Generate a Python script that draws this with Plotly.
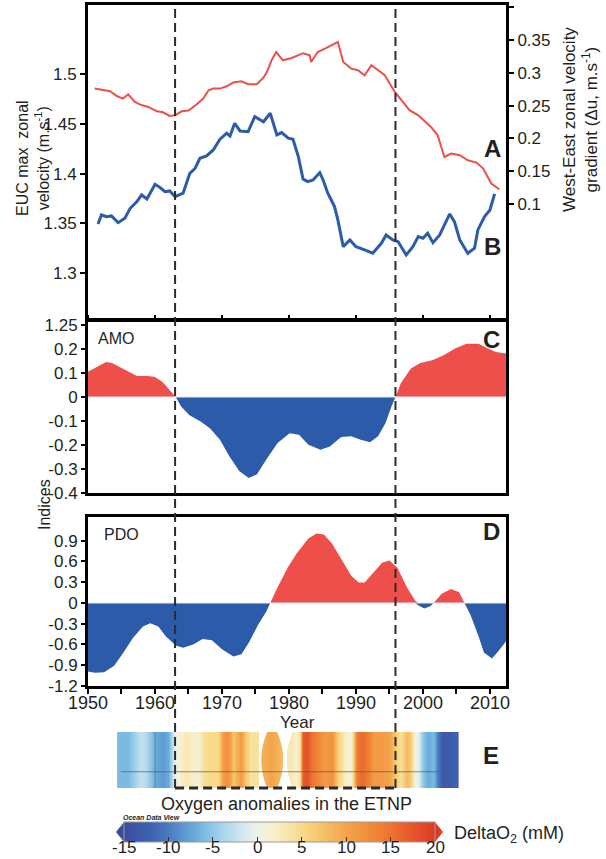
import plotly.graph_objects as go

W, H = 606, 859
def px(x): return x / W
def py(y): return 1 - y / H

FONT = "Liberation Sans, Arial, sans-serif"
TXT = "#231f20"
RED = "#ee4f4b"
BLUE = "#2c5ca9"

# ---------------- data ----------------
# A: West-East zonal velocity gradient (right axis)
red_years = [1951.0, 1952.0, 1953.3, 1954.3, 1955.2, 1956.0, 1957.0, 1957.8, 1959.0, 1960.3,
             1961.2, 1962.2, 1963.0, 1964.0, 1965.0, 1966.2, 1967.2, 1968.0, 1968.7, 1969.7,
             1970.7, 1971.7, 1972.9, 1973.9, 1975.2, 1976.2, 1976.7, 1977.4, 1978.1, 1979.1,
             1980.4, 1982.1, 1983.1, 1983.3, 1984.3, 1985.6, 1987.1, 1987.3, 1988.1, 1989.3,
             1990.3, 1991.3, 1992.3, 1994.3, 1995.8, 1997.0, 1998.0, 1999.3, 2000.3, 2001.2,
             2002.2, 2003.2, 2004.2, 2005.5, 2006.7, 2008.0, 2009.0, 2010.2, 2011.4]
red_vals = [0.276, 0.2745, 0.272, 0.2647, 0.2607, 0.2673, 0.2556, 0.2516, 0.248, 0.2414,
            0.2399, 0.2343, 0.2353, 0.2414, 0.2424, 0.2516, 0.2607, 0.2734, 0.276, 0.276,
            0.2795, 0.2852, 0.2872, 0.2826, 0.2826, 0.2928, 0.3013, 0.3192, 0.3318, 0.3192,
            0.3227, 0.3300, 0.3268, 0.3166, 0.3318, 0.338, 0.3461, 0.347, 0.3166, 0.3065,
            0.304, 0.2963, 0.3116, 0.2963, 0.2709, 0.2556, 0.243, 0.2353, 0.2251, 0.2175,
            0.2048, 0.1717, 0.1769, 0.1743, 0.1667, 0.1632, 0.154, 0.1312, 0.1225]

# B: EUC max zonal velocity (left axis)
blue_years = [1951.5, 1952.0, 1952.8, 1953.5, 1954.5, 1955.5, 1956.3, 1957.3, 1958.0, 1958.8,
              1960.0, 1960.7, 1961.5, 1962.2, 1963.0, 1964.2, 1965.2, 1966.0, 1966.7, 1967.7,
              1968.7, 1969.7, 1970.7, 1971.2, 1971.9, 1972.7, 1973.9, 1974.9, 1976.2, 1977.2,
              1978.2, 1978.9, 1979.9, 1980.6, 1981.4, 1982.1, 1982.8, 1983.6, 1984.6, 1985.1,
              1985.8, 1986.8, 1987.3, 1988.1, 1989.1, 1990.0, 1991.3, 1992.5, 1993.8, 1994.5,
              1995.5, 1996.3, 1997.5, 1998.5, 1999.3, 2000.0, 2000.7, 2001.5, 2002.5, 2004.0,
              2004.7, 2005.5, 2006.7, 2007.7, 2008.2, 2009.2, 2010.0, 2010.7]
blue_vals = [1.3495, 1.3585, 1.3568, 1.3575, 1.3508, 1.3552, 1.3652, 1.3719, 1.3786, 1.3746,
             1.3893, 1.3863, 1.3819, 1.3826, 1.3769, 1.3803, 1.4003, 1.4054, 1.4154, 1.4177,
             1.4237, 1.4345, 1.4405, 1.4378, 1.4505, 1.4428, 1.4421, 1.4572, 1.4521, 1.4606,
             1.4388, 1.4412, 1.4355, 1.4345, 1.417, 1.3945, 1.3919, 1.3936, 1.401, 1.3936,
             1.3803, 1.3669, 1.3535, 1.3267, 1.3334, 1.3267, 1.3234, 1.3201, 1.3301, 1.3384,
             1.3334, 1.3317, 1.3184, 1.3267, 1.3368, 1.3351, 1.3401, 1.3307, 1.3384, 1.3595,
             1.3518, 1.3334, 1.3201, 1.3251, 1.3435, 1.3568, 1.3635, 1.3796]

# C: AMO index
amo_years = [1950.0, 1951.3, 1952.7, 1953.6, 1954.7, 1956.2, 1957.3, 1958.8, 1959.9, 1961.1,
             1962.2, 1963.1, 1963.9, 1965.1, 1966.8, 1968.2, 1969.7, 1971.1, 1972.6, 1974.0,
             1975.2, 1976.6, 1978.3, 1980.1, 1981.5, 1982.9, 1984.7, 1986.1, 1987.8, 1989.3,
             1990.7, 1992.1, 1993.3, 1994.4, 1995.3, 1995.9, 1996.7, 1998.2, 1999.6, 2001.4,
             2003.1, 2004.8, 2006.5, 2008.3, 2009.7, 2010.9, 2012.4]
amo_vals = [0.105, 0.126, 0.146, 0.142, 0.126, 0.101, 0.087, 0.087, 0.084, 0.064,
            0.029, 0.0, -0.040, -0.075, -0.102, -0.130, -0.178, -0.247, -0.309, -0.337,
            -0.323, -0.261, -0.192, -0.151, -0.157, -0.199, -0.220, -0.206, -0.167, -0.164,
            -0.178, -0.189, -0.164, -0.109, -0.040, 0.0, 0.057, 0.119, 0.142, 0.153,
            0.174, 0.202, 0.222, 0.222, 0.202, 0.188, 0.181]

# D: PDO index
pdo_years = [1950.0, 1951.0, 1952.4, 1953.9, 1955.3, 1956.7, 1958.2, 1959.3, 1960.5, 1961.6,
             1963.1, 1964.2, 1965.7, 1967.1, 1968.5, 1970.0, 1971.7, 1972.9, 1974.0, 1975.4,
             1976.6, 1977.2, 1978.3, 1979.8, 1981.2, 1982.9, 1984.1, 1985.2, 1986.4, 1987.8,
             1989.3, 1990.4, 1991.3, 1992.4, 1993.9, 1995.0, 1996.2, 1997.6, 1998.8, 1999.3,
             2000.2, 2001.1, 2001.6, 2002.8, 2004.2, 2005.4, 2006.2, 2007.1, 2008.3, 2009.1,
             2010.3, 2011.1, 2012.4]
pdo_vals = [-0.99, -1.01, -1.0, -0.906, -0.717, -0.505, -0.34, -0.292, -0.34, -0.481,
            -0.613, -0.646, -0.599, -0.519, -0.538, -0.67, -0.774, -0.741, -0.575, -0.316,
            -0.127, 0.0, 0.226, 0.509, 0.722, 0.934, 1.005, 0.99, 0.863, 0.627,
            0.392, 0.297, 0.297, 0.415, 0.58, 0.613, 0.509, 0.226, 0.038, -0.033,
            -0.08, -0.047, 0.0, 0.132, 0.203, 0.156, 0.0, -0.175, -0.481, -0.717,
            -0.802, -0.717, -0.552]

# E: oxygen anomalies in the ETNP (None = no data)
o2_years = [1954.9, 1956.0, 1957.0, 1957.8, 1958.5, 1959.3, 1960.0, 1961.0, 1961.9, 1962.5,
            1963.0, 1963.4, 1964.5, 1965.5, 1966.3, 1967.2, 1968.2, 1969.4, 1970.1, 1970.6,
            1971.0, 1971.6, 1972.2, 1972.8, 1973.4, 1974.2, 1975.1, 1975.7, 1976.3, 1977.2,
            1978.1, 1978.8, 1979.5, 1980.1, 1981.0, 1981.6, 1982.1, 1982.7, 1983.4, 1984.3,
            1985.4, 1986.4, 1987.3, 1987.9, 1988.7, 1989.4, 1990.1, 1990.9, 1991.8, 1992.7,
            1993.9, 1995.1, 1996.0, 1996.7, 1997.5, 1998.1, 1998.7, 1999.3, 1999.9, 2000.7,
            2001.6, 2002.2, 2003.0, 2004.0, 2004.9]
o2_vals = [-6, -6, -4, -2.5, -3, -5, -7, -8, -7, -3,
           0, 1, 3, 2, 1, 4, 5, 5, 10, 12,
           11, 7, 9, 11, 7, 4, 4, None, 9, 10,
           9, 8, None, 3, 2, 3, 17, 18, 15, 13,
           11, 12, 6, 4, 1, 2, 14, 16, 14, 11,
           11, 10, 6, 4, 8, 6, 1, -1, -5, -7,
           -6, -10, -13, -13, -12]

dash_years = [1963.0, 1995.9]

left_ticks = [1.3, 1.35, 1.4, 1.45, 1.5]
right_ticks = [0.1, 0.15, 0.2, 0.25, 0.3, 0.35, 0.4]
amo_ticks = [0.3, 0.2, 0.1, 0, -0.1, -0.2, -0.3, -0.4]
amo_ticktext = ["1.25", "0.2", "0.1", "0", "-0.1", "-0.2", "-0.3", "-0.4"]
pdo_ticks = [0.9, 0.6, 0.3, 0, -0.3, -0.6, -0.9, -1.2]
pdo_ticktext = ["0.9", "0.6", "0.3", "0", "-0.3", "-0.6", "-0.9", "-1.2"]
year_ticks = [1950, 1960, 1970, 1980, 1990, 2000, 2010]
cbar_ticks = [-15, -10, -5, 0, 5, 10, 15, 20]
CB_MIN, CB_MAX = -15, 20

odv_scale = [
    [0.0, "#394c9e"], [0.0857, "#3e62b2"], [0.1429, "#4a7cc2"], [0.2286, "#69acdb"],
    [0.2857, "#8fc9e7"], [0.3714, "#cde6ef"], [0.4286, "#eef2ea"], [0.4857, "#f8efca"],
    [0.5714, "#f8da88"], [0.6571, "#f5bb60"], [0.7143, "#f4a44b"], [0.8, "#f0883a"],
    [0.8571, "#ec7430"], [0.9429, "#e5502a"], [1.0, "#df3a24"],
]

XR = [1950, 2012.4]
XD = [px(88), px(506)]

fig = go.Figure()

# top panel
fig.add_trace(go.Scatter(x=red_years, y=red_vals, mode="lines", line=dict(color=RED, width=2),
                         xaxis="x", yaxis="y2", showlegend=False))
fig.add_trace(go.Scatter(x=blue_years, y=blue_vals, mode="lines", line=dict(color=BLUE, width=3),
                         xaxis="x", yaxis="y", showlegend=False))

# AMO
fig.add_trace(go.Scatter(x=amo_years, y=[max(v, 0) for v in amo_vals], mode="lines", fill="tozeroy",
                         fillcolor=RED, line=dict(width=0, color=RED), xaxis="x2", yaxis="y3",
                         showlegend=False))
fig.add_trace(go.Scatter(x=amo_years, y=[min(v, 0) for v in amo_vals], mode="lines", fill="tozeroy",
                         fillcolor=BLUE, line=dict(width=0, color=BLUE), xaxis="x2", yaxis="y3",
                         showlegend=False))
# PDO
fig.add_trace(go.Scatter(x=pdo_years, y=[max(v, 0) for v in pdo_vals], mode="lines", fill="tozeroy",
                         fillcolor=RED, line=dict(width=0, color=RED), xaxis="x3", yaxis="y4",
                         showlegend=False))
fig.add_trace(go.Scatter(x=pdo_years, y=[min(v, 0) for v in pdo_vals], mode="lines", fill="tozeroy",
                         fillcolor=BLUE, line=dict(width=0, color=BLUE), xaxis="x3", yaxis="y4",
                         showlegend=False))

# E strip: split into segments at gaps
segments = []
cur_x, cur_z = [], []
for yv, zv in zip(o2_years, o2_vals):
    if zv is None:
        if cur_x:
            segments.append((cur_x, cur_z))
        cur_x, cur_z = [], []
    else:
        cur_x.append(yv)
        cur_z.append(zv)
if cur_x:
    segments.append((cur_x, cur_z))

for sx, sz in segments:
    fig.add_trace(go.Heatmap(x=sx, y=[0, 0.5, 1], z=[sz, sz], coloraxis="coloraxis",
                             zsmooth="best", xaxis="x4", yaxis="y5", hoverinfo="skip"))

axis_common = dict(showgrid=False, zeroline=False, linecolor="black", color=TXT, automargin=False,
                   tickfont=dict(family=FONT, size=17, color=TXT))
axis_nofont = {k: v for k, v in axis_common.items() if k != "tickfont"}

fig.update_layout(
    template="none",
    width=W, height=H, autosize=False,
    margin=dict(l=0, r=0, t=0, b=0, pad=0, autoexpand=False),
    paper_bgcolor="white", plot_bgcolor="rgba(0,0,0,0)",
    font=dict(family=FONT, color=TXT),
    showlegend=False,
    xaxis=dict(domain=XD, range=XR, anchor="y", showline=True, linewidth=3, mirror=True,
               showticklabels=False, ticks="", **axis_nofont),
    yaxis=dict(domain=[py(318), py(5)], range=[1.2551, 1.5692], anchor="x", showline=True,
               linewidth=3, mirror=True, ticks="outside", ticklen=5, tickwidth=2, tickcolor="black",
               tickvals=left_ticks, ticktext=[f"{t:g}" for t in left_ticks], **axis_common),
    yaxis2=dict(overlaying="y", side="right", range=[-0.0739, 0.4035], anchor="x", showline=True,
                linewidth=3, ticks="outside", ticklen=5, tickwidth=2, tickcolor="black",
                tickvals=right_ticks, ticktext=[f"{t:g}" for t in right_ticks], **axis_common),
    xaxis2=dict(domain=XD, range=XR, anchor="y3", side="top", showline=True, linewidth=3, mirror=True,
                ticks="outside", ticklen=4, tickwidth=2, tickcolor="black", tickvals=year_ticks,
                showticklabels=False, **axis_nofont),
    yaxis3=dict(domain=[py(493), py(322)], range=[-0.4, 0.3125], anchor="x2", showline=True,
                linewidth=3, mirror=True, ticks="outside", ticklen=4, tickwidth=2, tickcolor="black",
                tickvals=amo_ticks, ticktext=amo_ticktext, **axis_common),
    xaxis3=dict(domain=XD, range=XR, anchor="y4", showline=True, linewidth=3, mirror=True,
                ticks="outside", ticklen=5, tickwidth=2, tickcolor="black", tickvals=year_ticks,
                ticktext=[str(t) for t in year_ticks], ticklabelstandoff=-7,
                minor=dict(dtick=5, tick0=1950, ticks="outside", ticklen=5, tickwidth=2, tickcolor="black"),
                **{**axis_common, "tickfont": dict(family=FONT, size=18, color=TXT)}),
    yaxis4=dict(domain=[py(686), py(517)], range=[-1.2, 1.243], anchor="x3", showline=True,
                linewidth=3, mirror=True, ticks="outside", ticklen=4, tickwidth=2, tickcolor="black",
                tickvals=pdo_ticks, ticktext=pdo_ticktext, **axis_common),
    xaxis4=dict(domain=XD, range=XR, anchor="y5", visible=False, automargin=False),
    yaxis5=dict(domain=[py(788), py(732)], range=[0, 1], anchor="x4", visible=False, automargin=False),
    coloraxis=dict(
        colorscale=odv_scale, cmin=CB_MIN, cmax=CB_MAX,
        colorbar=dict(orientation="h", x=px(279.5), xanchor="center", y=py(822), yanchor="top",
                      len=311 / W, lenmode="fraction", thickness=20, thicknessmode="pixels",
                      xpad=0, ypad=0, tickvals=cbar_ticks, showticklabels=False,
                      ticks="inside", ticklen=5, tickcolor="#333", tickwidth=1,
                      outlinewidth=1, outlinecolor="#999"),
    ),
)

shapes = []
# zero lines in C and D
for xr_, yr_ in (("x2", "y3"), ("x3", "y4")):
    shapes.append(dict(type="line", xref=xr_, yref=yr_, x0=XR[0], x1=XR[1], y0=0, y1=0,
                       line=dict(color="#e8eef8", width=1.2), layer="above"))

# lens-shaped gaps in the E strip (carve corners of segments after the first)
wl = 0.9
for i, (sx, sz) in enumerate(segments):
    a = sx[0] - (sx[1] - sx[0]) / 2
    b = sx[-1] + (sx[-1] - sx[-2]) / 2
    if i > 0:
        shapes.append(dict(type="path", xref="x4", yref="y5",
                           path=f"M {a-0.3},1 L {a+wl},1 Q {a-wl},0.5 {a+wl},0 L {a-0.3},0 Z",
                           fillcolor="white", line=dict(width=0), layer="above"))
    if 0 < i < len(segments) - 1:
        shapes.append(dict(type="path", xref="x4", yref="y5",
                           path=f"M {b+0.3},1 L {b-wl},1 Q {b+wl},0.5 {b-wl},0 L {b+0.3},0 Z",
                           fillcolor="white", line=dict(width=0), layer="above"))

# thin grid lines on the E strip
shapes.append(dict(type="line", xref="x4", yref="y5", x0=o2_years[0], x1=o2_years[-1], y0=0.29, y1=0.29,
                   line=dict(color="rgba(90,90,90,0.7)", width=1), layer="above"))
shapes.append(dict(type="line", xref="x4", yref="y5", x0=1960, x1=1960, y0=0, y1=1,
                   line=dict(color="rgba(90,90,90,0.5)", width=1), layer="above"))

# dashed period lines
for dy in dash_years:
    shapes.append(dict(type="line", xref="x", yref="paper", x0=dy, x1=dy, y0=py(788), y1=py(7),
                       line=dict(color="#2b2b2b", width=2, dash="9px,5px"), layer="above"))
shapes.append(dict(type="line", xref="x", yref="paper", x0=dash_years[0], x1=dash_years[1],
                   y0=py(788), y1=py(788), line=dict(color="#2b2b2b", width=3, dash="9px,5px"),
                   layer="above"))

# colorbar end arrows
cb_l, cb_r, cb_t, cb_b = 124, 435, 822, 842
shapes.append(dict(type="path", xref="paper", yref="paper",
                   path=f"M {px(cb_l)},{py(cb_t)} L {px(cb_l-8)},{py((cb_t+cb_b)/2)} L {px(cb_l)},{py(cb_b)} Z",
                   fillcolor=odv_scale[0][1], line=dict(width=0)))
shapes.append(dict(type="path", xref="paper", yref="paper",
                   path=f"M {px(cb_r)},{py(cb_t)} L {px(cb_r+8)},{py((cb_t+cb_b)/2)} L {px(cb_r)},{py(cb_b)} Z",
                   fillcolor=odv_scale[-1][1], line=dict(width=0)))
fig.update_layout(shapes=shapes)

def ann(text, x, y, size, bold=False, angle=0, xanchor="center", italic=False, yanchor="middle"):
    t = f"<b>{text}</b>" if bold else text
    if italic:
        t = f"<i>{t}</i>"
    return dict(text=t, x=px(x), y=py(y), xref="paper", yref="paper", showarrow=False,
                textangle=angle, xanchor=xanchor, yanchor=yanchor,
                font=dict(family=FONT, size=size, color=TXT))

annotations = [
    ann("EUC max  zonal<br>velocity (m.s<sup>-1</sup>)", 33, 158, 16, angle=-90),
    ann("West-East zonal velocity<br>gradient (Δu, m.s<sup>-1</sup>)", 580, 120, 17, angle=-90),
    ann("A", 492, 148, 24, bold=True),
    ann("B", 492, 246, 24, bold=True),
    ann("C", 491, 339, 24, bold=True),
    ann("D", 491, 531, 24, bold=True),
    ann("E", 491, 755, 24, bold=True),
    ann("AMO", 96, 338, 16, xanchor="left"),
    ann("PDO", 102, 534, 16, xanchor="left"),
    ann("Indices", 45, 505, 16, angle=-90),
    ann("Year", 297, 722, 17),
    ann("Oxygen anomalies in the ETNP", 286, 804, 18),
    ann("Ocean Data View", 151, 817, 7, bold=True, italic=True),
    ann("DeltaO<sub>2</sub> (mM)", 452, 834, 18, xanchor="left"),
]
# colorbar tick labels
for t in cbar_ticks:
    xx = cb_l + (t - CB_MIN) * (cb_r - cb_l) / (CB_MAX - CB_MIN)
    annotations.append(ann(str(t), xx, 858.5, 17, yanchor="bottom"))
fig.update_layout(annotations=annotations)

fig.write_html("out.html")
